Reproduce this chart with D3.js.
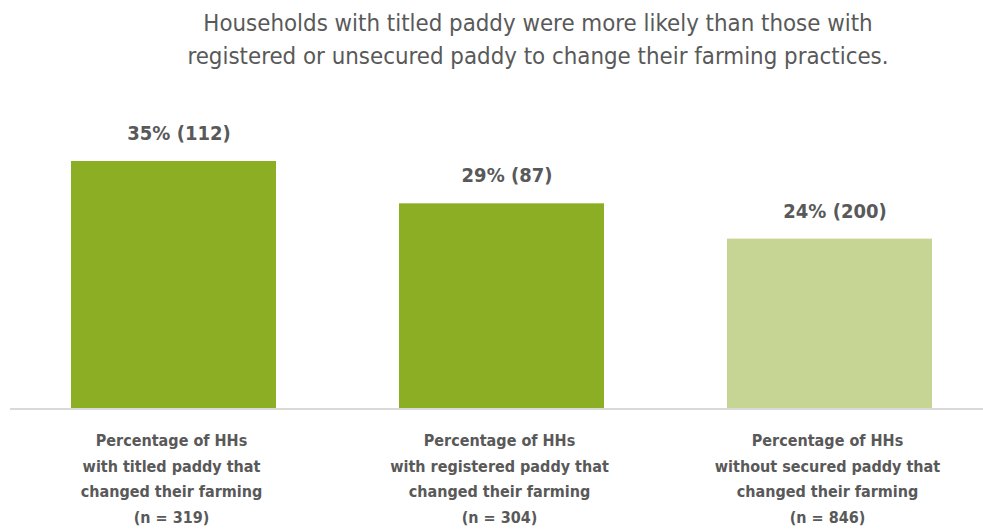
<!DOCTYPE html>
<html>
<head>
<meta charset="utf-8">
<script src="https://cdn.jsdelivr.net/npm/d3@7"></script>
<style>
  body { margin: 0; background: #fff; }
  svg text { font-family: 'DejaVu Sans Condensed', 'DejaVu Sans', sans-serif; font-stretch: condensed; fill: #595959; }
</style>
</head>
<body>
<svg id="chart"></svg>
<script>
const titleLines = [
  'Households with titled paddy were more likely than those with',
  'registered or unsecured paddy to change their farming practices.'
]
const categories = ['titled', 'registered', 'unsecured']
const percentValues = [35, 29, 24]
const counts = [112, 87, 200]
const categoryLabels = [
  ['Percentage of HHs', 'with titled paddy that', 'changed their farming', '(n = 319)'],
  ['Percentage of HHs', 'with registered paddy that', 'changed their farming', '(n = 304)'],
  ['Percentage of HHs', 'without secured paddy that', 'changed their farming', '(n = 846)']
]
const barColors = ['#8cae24', '#8cae24', '#c7d594']

const width = 983
const height = 529
const baseline = 408

const svg = d3.select('#chart')
  .attr('width', width)
  .attr('height', height)

const x = d3.scaleBand()
  .domain(categories)
  .range([9.5, 993.5])
  .paddingInner(0.375)
  .paddingOuter(0.1875)

const y = d3.scaleLinear()
  .domain([0, 40])
  .range([baseline, 125.7])

// Title
svg.append('text')
  .attr('x', 538)
  .attr('text-anchor', 'middle')
  .style('font-size', '23.8px')
  .selectAll('tspan')
  .data(titleLines)
  .join('tspan')
  .attr('x', 538)
  .attr('y', (d, i) => 31 + i * 33)
  .text(d => d)

// Bars
svg.append('g')
  .selectAll('rect')
  .data(categories)
  .join('rect')
  .attr('x', d => x(d))
  .attr('y', (d, i) => y(percentValues[i]))
  .attr('width', x.bandwidth())
  .attr('height', (d, i) => baseline - y(percentValues[i]))
  .attr('fill', (d, i) => barColors[i])

// Axis line
svg.append('g')
  .attr('transform', `translate(0, ${baseline + 1})`)
  .call(d3.axisBottom(x).tickSize(0).tickFormat(''))
  .call(g => g.select('.domain')
    .attr('d', 'M10,0H983')
    .attr('stroke', '#d9d9d9')
    .attr('stroke-width', 2))

// Value labels
svg.append('g')
  .selectAll('text')
  .data(categories)
  .join('text')
  .attr('x', d => x(d) + x.bandwidth() / 2 + 5.5)
  .attr('y', (d, i) => y(percentValues[i]) - 21)
  .attr('text-anchor', 'middle')
  .style('font-size', '20px')
  .style('font-weight', 'bold')
  .text((d, i) => `${percentValues[i]}% (${counts[i]})`)

// Category labels
const catG = svg.append('g')
  .selectAll('text')
  .data(categories)
  .join('text')
  .attr('text-anchor', 'middle')
  .style('font-size', '16px')
  .style('font-weight', 'bold')

catG.selectAll('tspan')
  .data((d, i) => categoryLabels[i].map(t => ({ t, c: d })))
  .join('tspan')
  .attr('x', d => x(d.c) + x.bandwidth() / 2 - 2)
  .attr('y', (d, i) => 446 + i * 25.5)
  .text(d => d.t)
</script>
</body>
</html>
